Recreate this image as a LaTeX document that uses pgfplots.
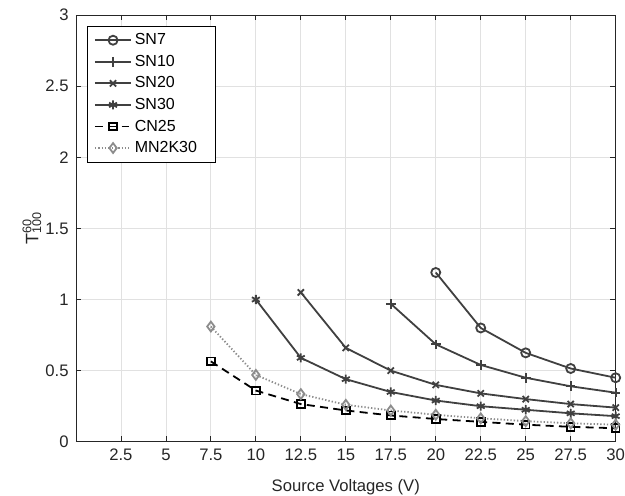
\documentclass[border=0pt]{standalone}
\usepackage{pgfplots}
\pgfplotsset{compat=1.18}
\usepackage{fontspec}
\setmainfont{Liberation Sans}
\definecolor{linegray}{RGB}{64,64,64}
\definecolor{dotgray}{RGB}{140,140,140}
\definecolor{gridgray}{RGB}{225,225,225}
\definecolor{axgray}{RGB}{38,38,38}
\newcommand{\entry}[1]{#1\hspace*{7pt}}

\begin{document}
\begin{tikzpicture}
\begin{axis}[
    name=ax,
    scale only axis,
    width=405pt, height=320.25pt,
    xmin=0, xmax=30,
    ymin=0, ymax=3,
    xtick={2.5,5,7.5,10,12.5,15,17.5,20,22.5,25,27.5,30},
    xticklabels={2.5,5,7.5,10,12.5,15,17.5,20,22.5,25,27.5,30},
    ytick={0,0.5,1,1.5,2,2.5,3},
    yticklabels={0,0.5,1,1.5,2,2.5,3},
    grid=major,
    grid style={gridgray, line width=0.6pt},
    axis line style={axgray, line width=0.6pt},
    tick style={axgray, line width=0.6pt},
    tick align=inside,
    major tick length=4pt,
    tick label style={font=\fontsize{12.5}{14}\selectfont, text=black!85},
    xticklabel style={yshift=-2pt},
    yticklabel style={xshift=-2pt},
    xlabel={Source Voltages (V)},
    ylabel={T\rlap{\textsuperscript{60}}\textsubscript{100}},
    every axis x label/.style={at={(axis description cs:0.5,0)}, yshift=-34pt, anchor=center,
        font=\fontsize{12.5}{14}\selectfont, text=black!85},
    every axis y label/.style={at={(axis description cs:0,0.5)}, xshift=-33pt, rotate=90, anchor=center,
        font=\fontsize{13.5}{15}\selectfont, text=black!85},
    legend style={at={(axis description cs:0,1)}, xshift=8.25pt, yshift=-8.25pt,
        anchor=north west, draw=black, line width=0.5pt,
        font=\fontsize{12}{13}\selectfont, cells={anchor=west}, row sep=2.3pt,
        inner xsep=5pt, inner ysep=3.5pt},
    legend cell align=left,
    legend image code/.code={%
        \draw[mark repeat=2, mark phase=2, #1]
        plot coordinates {(0cm,0cm) (0.48cm,0cm) (0.96cm,0cm)};},
]
\addplot[line width=1.35pt, color=linegray, mark=o, mark size=3.4pt, mark options={solid}]
    coordinates {(20,1.19)(22.5,0.80)(25,0.625)(27.5,0.515)(30,0.45)};
\addlegendentry{\entry{SN7}}
\addplot[line width=1.35pt, color=linegray, mark=+, mark size=3.6pt, mark options={solid}]
    coordinates {(17.5,0.97)(20,0.685)(22.5,0.54)(25,0.45)(27.5,0.39)(30,0.345)};
\addlegendentry{\entry{SN10}}
\addplot[line width=1.35pt, color=linegray, mark=x, mark size=3.3pt, mark options={solid}]
    coordinates {(12.5,1.05)(15,0.66)(17.5,0.50)(20,0.40)(22.5,0.34)(25,0.30)(27.5,0.265)(30,0.24)};
\addlegendentry{\entry{SN20}}
\addplot[line width=1.35pt, color=linegray, mark=asterisk, mark size=3.4pt, mark options={solid}]
    coordinates {(10,1.0)(12.5,0.59)(15,0.44)(17.5,0.35)(20,0.29)(22.5,0.25)(25,0.225)(27.5,0.20)(30,0.18)};
\addlegendentry{\entry{SN30}}
\addplot[line width=1.35pt, color=black, dash pattern=on 6pt off 4pt, mark=square, mark size=2.9pt, mark options={solid}]
    coordinates {(7.5,0.565)(10,0.36)(12.5,0.265)(15,0.22)(17.5,0.185)(20,0.16)(22.5,0.14)(25,0.12)(27.5,0.105)(30,0.095)};
\addlegendentry{\entry{CN25}}
\addplot[line width=1.35pt, color=dotgray, dash pattern=on 1pt off 1.5pt, mark=diamond, mark size=3.7pt, mark options={solid}]
    coordinates {(7.5,0.81)(10,0.47)(12.5,0.335)(15,0.26)(17.5,0.22)(20,0.19)(22.5,0.165)(25,0.145)(27.5,0.13)(30,0.12)};
\addlegendentry{\entry{MN2K30}}
\end{axis}
\pgfresetboundingbox
\path ([shift={(-57pt,-40.5pt)}]ax.south west) rectangle ([shift={(7pt,11.25pt)}]ax.north east);
\end{tikzpicture}
\end{document}
